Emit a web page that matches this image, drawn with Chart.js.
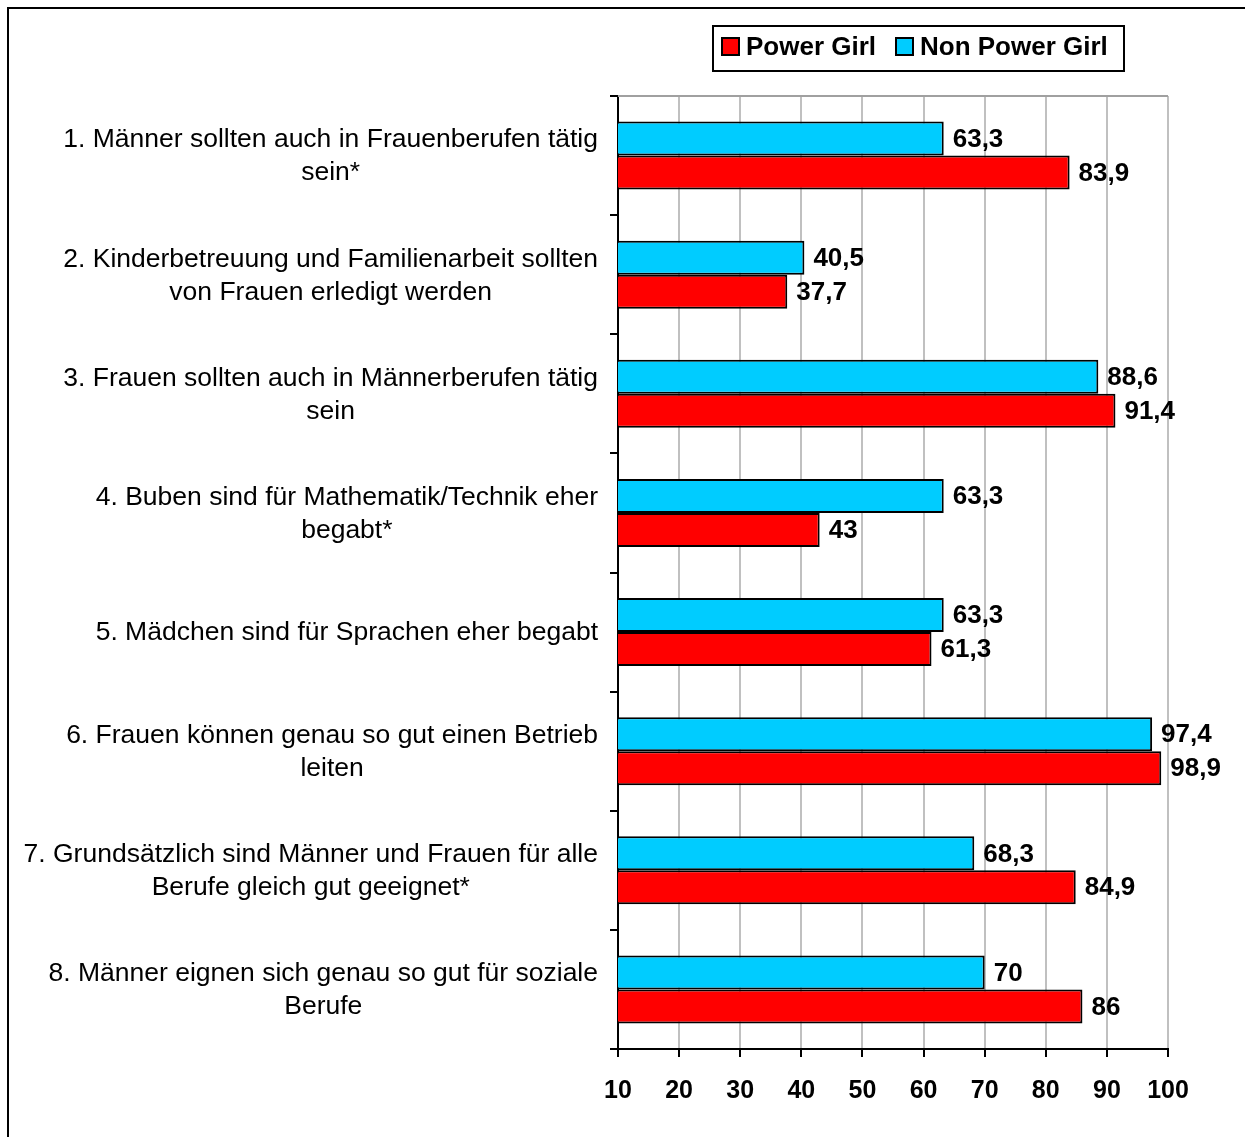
<!DOCTYPE html>
<html>
<head>
<meta charset="utf-8">
<script src="https://cdn.jsdelivr.net/npm/chart.js@4"></script>
<style>
  html, body { margin: 0; padding: 0; background: #fff; }
  #wrap { width: 1245px; height: 1137px; position: relative; }
</style>
</head>
<body>
<div id="wrap"><canvas id="chart" width="1245" height="1137"></canvas></div>
<script>
// Kategorien (mehrzeilig)
const categories = [
    ['1. Männer sollten auch in Frauenberufen tätig', 'sein*'],
    ['2. Kinderbetreuung und Familienarbeit sollten', 'von Frauen erledigt werden'],
    ['3. Frauen sollten auch in Männerberufen tätig', 'sein'],
    ['4. Buben sind für Mathematik/Technik eher', 'begabt*'],
    ['5. Mädchen sind für Sprachen eher begabt'],
    ['6. Frauen können genau so gut einen Betrieb', 'leiten'],
    ['7. Grundsätzlich sind Männer und Frauen für alle', 'Berufe gleich gut geeignet*'],
    ['8. Männer eignen sich genau so gut für soziale', 'Berufe']
];
const powerGirl = [83.9, 37.7, 91.4, 43, 61.3, 98.9, 84.9, 86];
const nonPowerGirl = [63.3, 40.5, 88.6, 63.3, 63.3, 97.4, 68.3, 70];
const xTicks = [10, 20, 30, 40, 50, 60, 70, 80, 90, 100];

const RED = '#FF0000';
const CYAN = '#00CCFF';

// Rahmen, Legende, Kategorietexte und Werte zeichnen
const extras = {
    id: 'extras',
    afterDraw(chart) {
        const ctx = chart.ctx;
        const area = chart.chartArea;
        const yScale = chart.scales.y;
        ctx.save();

        // obere Linie der Zeichenfläche
        ctx.strokeStyle = '#a0a0a0';
        ctx.lineWidth = 2;
        ctx.beginPath();
        ctx.moveTo(area.left, area.top);
        ctx.lineTo(area.right, area.top);
        ctx.stroke();

        // Kategorietexte: Block rechtsbündig, Zeilen zentriert
        ctx.font = '26.5px "Liberation Sans", Arial, sans-serif';
        ctx.fillStyle = '#000';
        ctx.textBaseline = 'middle';
        ctx.textAlign = 'center';
        const lineH = 33;
        categories.forEach((lines, i) => {
            const cy = yScale.getPixelForValue(i);
            const widest = Math.max(...lines.map(l => ctx.measureText(l).width));
            const cx = 598 - widest / 2;
            const y0 = cy - (lines.length - 1) * lineH / 2;
            lines.forEach((l, k) => ctx.fillText(l, cx, y0 + k * lineH + 1));
        });

        // Werte an den Balken
        ctx.font = 'bold 26px "Liberation Sans", Arial, sans-serif';
        ctx.textAlign = 'left';
        chart.data.datasets.forEach((ds, di) => {
            chart.getDatasetMeta(di).data.forEach((bar, i) => {
                const txt = String(ds.data[i]).replace('.', ',');
                ctx.fillText(txt, bar.x + 9, bar.y + 1);
            });
        });

        // Legende
        ctx.lineWidth = 2;
        ctx.strokeStyle = '#000';
        ctx.fillStyle = '#fff';
        ctx.fillRect(713, 26, 411, 45);
        ctx.strokeRect(713, 26, 411, 45);
        const items = [['Power Girl', RED, 722], ['Non Power Girl', CYAN, 896]];
        ctx.font = 'bold 26px "Liberation Sans", Arial, sans-serif';
        items.forEach(([name, col, x]) => {
            ctx.fillStyle = col;
            ctx.fillRect(x, 38, 17, 17);
            ctx.strokeRect(x, 38, 17, 17);
            ctx.fillStyle = '#000';
            ctx.fillText(name, x + 24, 48);
        });

        // äußerer Rahmen
        ctx.lineWidth = 2;
        ctx.strokeRect(8, 8, 1260, 1160);
        ctx.restore();
    }
};

new Chart(document.getElementById('chart'), {
    type: 'bar',
    data: {
        labels: categories,
        datasets: [
            {
                label: 'Non Power Girl',
                data: nonPowerGirl,
                backgroundColor: CYAN,
                borderColor: '#000',
                borderWidth: 2,
                borderSkipped: false
            },
            {
                label: 'Power Girl',
                data: powerGirl,
                backgroundColor: RED,
                borderColor: '#000',
                borderWidth: 2,
                borderSkipped: false
            }
        ]
    },
    options: {
        indexAxis: 'y',
        responsive: false,
        animation: false,
        categoryPercentage: 0.57,
        barPercentage: 1,
        layout: { padding: { top: 96, right: 77, bottom: 0, left: 0 } },
        plugins: {
            legend: { display: false },
            tooltip: { enabled: false }
        },
        scales: {
            x: {
                min: 10,
                max: 100,
                afterBuildTicks: (s) => { s.ticks = xTicks.map(v => ({ value: v })); },
                afterFit: (s) => { s.height = 88; },
                ticks: {
                    color: '#000',
                    padding: 19,
                    font: { family: '"Liberation Sans", Arial, sans-serif', size: 25, weight: 'bold' }
                },
                grid: { color: '#c0c0c0', lineWidth: 2, tickColor: '#000', tickLength: 8 },
                border: { color: '#000', width: 2 }
            },
            y: {
                afterFit: (s) => { s.width = 618; },
                ticks: { display: false },
                grid: { offset: true, drawOnChartArea: false, color: '#000', lineWidth: 2, tickLength: 8 },
                border: { color: '#000', width: 2 }
            }
        }
    },
    plugins: [extras]
});
</script>
</body>
</html>
